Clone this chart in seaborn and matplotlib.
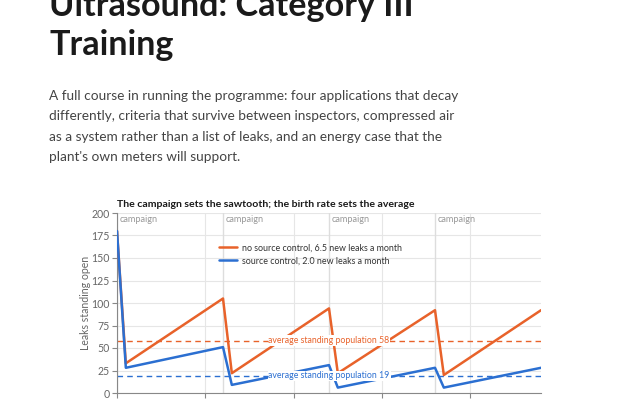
import matplotlib
matplotlib.use("Agg")
import matplotlib.pyplot as plt
import seaborn as sns
import pandas as pd

# ---- data ----
months = [0, 0.5, 6, 6.5, 12, 12.5, 18, 18.5, 24]
no_source_control = [180, 33, 105, 22, 94, 22, 92, 20, 92]
source_control = [180, 28, 51, 9, 31, 6, 28, 6, 28]
series_names = ["no source control, 6.5 new leaks a month",
                "source control, 2.0 new leaks a month"]
averages = [58, 19]
campaign_months = [0, 6, 12, 18]
x_ticks = [0, 5, 10, 15, 20]
y_ticks = [0, 25, 50, 75, 100, 125, 150, 175, 200]

ORANGE = "#e8622a"
BLUE = "#2b6fd1"
GRID = "#e6e6e6"
MUTED = "#666666"

sns.set_theme(style="white")
plt.rcParams["font.family"] = ["Lato", "DejaVu Sans"]

df = pd.concat([
    pd.DataFrame({"month": months, "open": no_source_control, "series": series_names[0]}),
    pd.DataFrame({"month": months, "open": source_control, "series": series_names[1]}),
])

fig = plt.figure(figsize=(6.4, 4.0), dpi=100)
fig.patch.set_facecolor("white")

# page heading and paragraph
fig.text(49/640, 1 - 16.5/400, "Ultrasound: Category III", fontsize=24.6, fontweight="bold",
         color="#1a1a1a", va="baseline", ha="left")
fig.text(49/640, 1 - 55/400, "Training", fontsize=24.6, fontweight="bold",
         color="#1a1a1a", va="baseline", ha="left")
para = ["A full course in running the programme: four applications that decay",
        "differently, criteria that survive between inspectors, compressed air",
        "as a system rather than a list of leaks, and an energy case that the",
        "plant's own meters will support."]
for i, line in enumerate(para):
    fig.text(49/640, 1 - (100 + i*20.3)/400, line, fontsize=9.8, color="#444444",
             va="baseline", ha="left")

ax = fig.add_axes([117/640, 1 - 393/400, (541-117)/640, (393-213)/400])

for yv in y_ticks:
    ax.axhline(yv, color=GRID, lw=0.8, zorder=0)
for xv in x_ticks[1:]:
    ax.axvline(xv, color=GRID, lw=0.8, zorder=0)
for cm in campaign_months:
    ax.axvline(cm, color="#dddddd", lw=1.0, zorder=0)
    ax.text(cm + 0.15, 197.5, "campaign", fontsize=6.6, color="#999999",
            ha="left", va="top")

sns.lineplot(data=df, x="month", y="open", hue="series",
             palette=[ORANGE, BLUE], linewidth=1.8, ax=ax, zorder=3)

for val, col in zip(averages, [ORANGE, BLUE]):
    ax.axhline(val, color=col, lw=1.0, ls=(0, (4, 3)), zorder=2)
    ax.text(12, val, f"average standing population {val}", color=col, fontsize=6.3,
            ha="center", va="center", zorder=4,
            bbox=dict(boxstyle="square,pad=0.1", fc="white", ec="none"))

ax.set_xlim(0, 24)
ax.set_ylim(0, 200)
ax.set_xticks(x_ticks)
ax.set_yticks(y_ticks)
ax.tick_params(axis="both", length=3.5, width=0.8, color="#888888",
               labelsize=7.6, labelcolor=MUTED, pad=2, bottom=True, left=True)
ax.tick_params(axis="x", labelbottom=False)
ax.set_xlabel("")
ax.set_ylabel("Leaks standing open", fontsize=7.6, color=MUTED, labelpad=0)
for s in ["top", "right"]:
    ax.spines[s].set_visible(False)
for s in ["left", "bottom"]:
    ax.spines[s].set_color("#888888")
    ax.spines[s].set_linewidth(0.8)
ax.set_facecolor("white")

ax.set_title("The campaign sets the sawtooth; the birth rate sets the average",
             fontsize=7.55, fontweight="bold", color="#1a1a1a", loc="left", pad=4)

leg = ax.legend(loc="upper left", bbox_to_anchor=(0.232, 0.85), frameon=False,
                fontsize=6.4, handlelength=2.0, handletextpad=0.6, labelspacing=0.45,
                borderaxespad=0)
for t in leg.get_texts():
    t.set_color("#333333")

fig.savefig("out.png", dpi=100, facecolor="white")
